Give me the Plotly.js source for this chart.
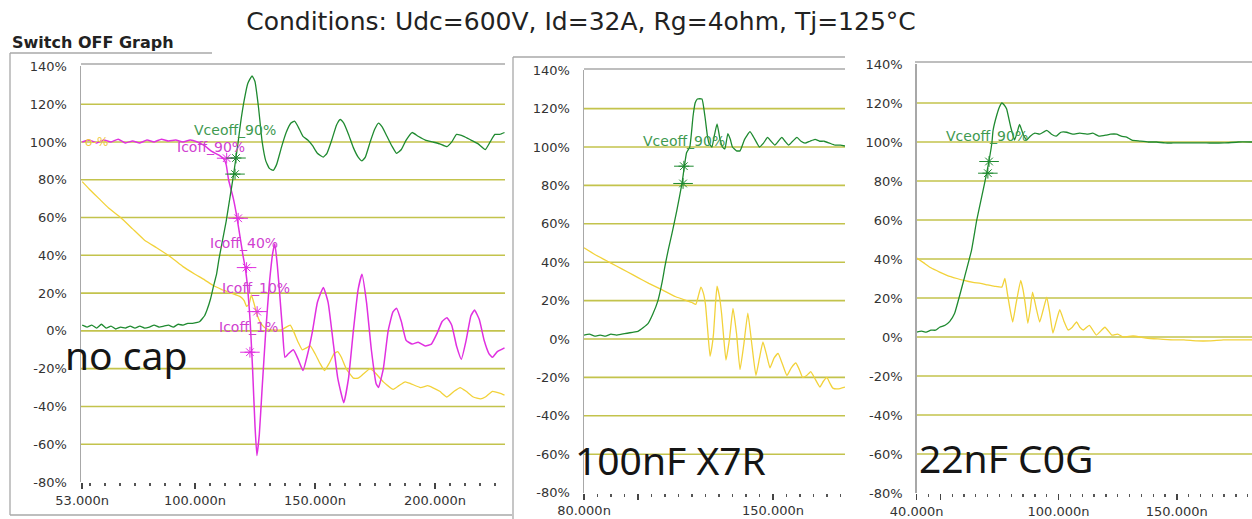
<!DOCTYPE html>
<html><head><meta charset="utf-8">
<script src="https://cdn.plot.ly/plotly-3.0.1.min.js"></script>
<style>html,body{margin:0;padding:0;background:#fff;overflow:hidden}#chart{width:1252px;height:519px}</style>
</head><body><div id="chart"></div>
<script>
// ---------- data (time in ns, value in %) ----------
const noCapVceT = [53,55,57,59,61,63,65,67,69,71,73,75,77,79,81,83,85,87,89,91,93,95,97,99,101,102,104,105,106.5,107.6,109,110,111.5,113,114.5,116,117,118,119,120.5,122,123.8,125,126.5,128,129.5,131,132.6,134,136,138,140,141.5,143,145,147,149,151,153.5,155,157,159,160.5,162,164,166,168,169.6,171,173,175,176.5,178,180,182,184,186,188,190.5,193,196,199,202,205,207,209,212,215,218,221,223,225,227,229];
const noCapVce  = [3,2,3,1.5,3.5,1.5,2.5,1,2,1.5,2.5,1.5,2.5,1.5,2,3,2,2.5,3,2,3.5,3,4,4,4.5,5,8,11,17,23,30,38,48,58,70,82,91,100,110,122,131,135,132,118,100,90,86,85,88,97,105,110,111,108,103,101,98,94,92,94,101,109,112,110,104,97,92,90,92,100,107,110,108,103,98,94,96,101,105,103,101,100,99,97.5,100,104,103,101,99,96,100,104,104,105];

const noCapIcT = [53,56,59,62,65,68,71,74,77,80,83,86,89,92,95,98,101,104,107,110,112,113,114,116,117.5,119,120,121,122,123,124,125,125.8,126.8,128,129.5,131,132.5,133.3,134.3,135.4,136.5,137.5,139,141,143,145,147,149,151,153.5,155.5,157.5,159.5,162,164,166,168,169.6,171.5,173.5,175.5,176.5,178.5,180.5,182.5,184,186,188,190.5,193,196,198.5,201,203,205,207,209,211,213,215,216.5,218.5,220.5,222.5,224,226,229];
const noCapIc  = [100,101,99.5,101,100,101.5,99.5,100.5,99.5,101,100,101.5,100.5,101,100,101,100,98,95,93,91,88,80,70,60,48,40,33,22,5,-20,-50,-66,-55,-30,0,25,42,46,35,18,0,-14,-12,-10,-15,-21,-12,0,15,23,15,-5,-25,-38,-25,0,22,30,15,-10,-28,-30,-20,0,10,12,5,-5,-7,-6,-8,-7,-1,5,7,3,-8,-15,-5,8,11,6,-5,-12,-14,-11,-9];

const noCapCh3T = [53,56,60,64,69,74,79,84,90,95,100,104,107.6,111,115,119,120.5,121.5,122.5,123.5,124.5,126,128,130,133,136,138,139.7,141,143,144.7,146.5,148,150,152,154,156,158,159.5,161,163,166,168,170,173,175,178.5,182.6,185,187.6,190,194,197,199,202,205,208,210.5,213,216,219,221,224,227,229];
const noCapCh3  = [79,75,70,65,60,54,48,44,39,34,30,27,24,22,20,18,16,13,14,19,15,8,3,1,0.5,0.5,2,3,0,-6,-10,-9,-8,-12,-17,-21,-17,-12,-11,-14,-20,-25,-25,-23,-20,-22,-27,-31,-29,-27,-28,-30,-29,-30,-32,-35,-32,-30,-32,-35,-36,-35,-32,-33,-34];

const x7rVceT = [80,82,84,86,88,90,92,94,96,98,100,102,103.7,105.5,107.4,109,110,111.3,112.6,114.4,116.3,118,119.2,120.4,121.2,122,123.7,124.8,125.7,126.3,127.4,128.3,129.3,130.4,131.3,132.2,133.3,134.2,135,136.5,137.8,139.5,141.5,143.3,145,146.5,148,149.3,150.7,152,153.3,154.5,155.8,157.3,158.9,160.4,161.9,163.7,165.6,167.3,169,171,173,175,176.7];
const x7rVce  = [2,2.5,1.5,2,1.5,2.5,2,2.5,3,3.5,4,6,8,13,20,30,38,47,55,67,81,97,100,116,123,125,125,116,106,102,100,106,112,104,100,99,107,104,100,98,98,104,108,104,100,102,105,103,101,103,105,103,101,103,105,103,102,103,104,103,103,102,101,101,100.5];

const x7rCh3T = [80,84,88,92,96,100,104,109,114,118,120,121.4,122.3,123.3,124.2,125,125.8,126.7,127.4,128,128.7,129.3,130.2,131,131.8,132.6,133.9,135.2,136.5,137.8,139.2,140.7,142.2,143.7,145,146.3,147.6,148.9,150.4,151.9,153.5,155.2,156.8,158.5,159.8,161,162.5,164,165.7,167.4,168.7,170,171.1,172.2,174,176.7];
const x7rCh3  = [47.5,44,41,38,35,32,29,25.6,22,20,19,18,22,27,24,18,5,-9,-4,3,18,27.5,22,13,0,-11,0,16,3,-16,-3,13.5,-3,-19,-10,-1.5,-8,-15,-10,-7.5,-13,-19,-15,-12.5,-16,-20,-19,-17,-21,-25,-22,-20,-23,-25.6,-26,-25];

const c0gVceT = [40,42,44,46,48,49.7,52,54,56,58,60.3,63.2,65.4,67.5,69.6,71.8,72.3,73.9,75,76,77,78,79.7,81.4,82.5,83.5,85,86.5,88,90,92,95,97,99,101,103.4,106,109,112,114.5,117,120,122,124.5,126.5,128.8,131,134.3,138,141.5,145,148.4,155,162.5,170,176,181.8];
const c0gVce  = [2.5,3,2.5,3.5,3.5,5,6,8,12,20.5,31,44.6,60,72,84,99.5,106,114,118,120,119,117,108,101,105,109,104,101,103,104.5,104,106,104,103,105,105,104,104.5,104,104.5,103,103.5,104,104,103,102.5,101,100.5,100,100,99.5,99.5,99.5,99.5,99.5,100,100];

const c0gCh3T = [40,43,46,49.7,53,57,60,63.8,67,70,73,76,77.3,78.4,79.5,80.6,82,84,85,85.9,87,88,89,90.5,92,93.5,95,96.3,97.6,99,100.5,102.3,104,105.8,107.6,109,110.5,113,116,119.6,122.5,125,127.3,131.5,137,142,148.4,153,158.4,164,169.7,175,181.8];
const c0gCh3  = [40.5,38,35.5,33.3,31.5,30,29,28,27.5,26.7,26,25.6,30,22,14,7.7,17,29,24,17,7,14,23,15,7.7,14,20.5,12,2,8,14,8,3.6,5,7.7,5,3.6,6,1,5,1,1.5,0,0.5,-0.5,-1,-1.5,-1.5,-2,-2,-1.5,-1.5,-1.5];

// measurement cursor marks (asterisks)
const noCapIcMarkT = [113.2,118,121.5,125.9,122.9];
const noCapIcMark  = [91.4,59.6,33.5,10.2,-11.3];
const noCapVceMarkT = [117.1,116.7];
const noCapVceMark  = [91.5,83];
const x7rVceMarkT = [117,116.7];
const x7rVceMark  = [90,81];
const c0gVceMarkT = [70.6,70.1];
const c0gVceMark  = [90,84];

// axis ticks
const yTickVals = [-80,-60,-40,-20,0,20,40,60,80,100,120,140];
const yTickText = yTickVals.map(v => v + '%');
const gridVals  = [-60,-40,-20,0,20,40,60,80,100,120];
const x1TickVals = [53,100,150,200];
const x1TickText = ['53.000n','100.000n','150.000n','200.000n'];
const x2TickVals = [80,100,150];
const x2TickText = ['80.000n','','150.000n'];
const x3TickVals = [40,50,100,150];
const x3TickText = ['40.000n','','100.000n','150.000n'];

// ---------- styling ----------
const W = 1252, H = 519;
const GREEN = '#1f8a30', MAGENTA = '#e030e0', YELLOW = '#f2d23a';
const GRID = '#c3c34c', FRAME = '#a8a8a8';
const px = v => v / W, py = v => 1 - v / H;
const tickFont = {family: 'DejaVu Sans, Verdana, sans-serif', size: 13, color: '#333'};

function line(xa, ya, t, v, color, w) {
  return {type: 'scatter', mode: 'lines', x: t, y: v, xaxis: xa, yaxis: ya,
          line: {color: color, width: w || 1.3, shape: 'spline', smoothing: 0.4},
          hoverinfo: 'skip', showlegend: false};
}
function marks(xa, ya, t, v, color) {
  return [
    {type: 'scatter', mode: 'markers', x: t, y: v, xaxis: xa, yaxis: ya,
     marker: {symbol: 'asterisk-open', size: 9, color: color, line: {color: color, width: 1}},
     hoverinfo: 'skip', showlegend: false},
    {type: 'scatter', mode: 'markers', x: t, y: v, xaxis: xa, yaxis: ya,
     marker: {symbol: 'line-ew-open', size: 14, color: color, line: {color: color, width: 1}},
     hoverinfo: 'skip', showlegend: false}
  ];
}

const traces = [
  line('x', 'y', noCapCh3T, noCapCh3, YELLOW),
  line('x', 'y', noCapIcT, noCapIc, MAGENTA, 1.5),
  line('x', 'y', noCapVceT, noCapVce, GREEN),
  ...marks('x', 'y', noCapIcMarkT, noCapIcMark, MAGENTA),
  ...marks('x', 'y', noCapVceMarkT, noCapVceMark, GREEN),
  line('x2', 'y2', x7rCh3T, x7rCh3, YELLOW),
  line('x2', 'y2', x7rVceT, x7rVce, GREEN),
  ...marks('x2', 'y2', x7rVceMarkT, x7rVceMark, GREEN),
  line('x3', 'y3', c0gCh3T, c0gCh3, YELLOW),
  line('x3', 'y3', c0gVceT, c0gVce, GREEN),
  ...marks('x3', 'y3', c0gVceMarkT, c0gVceMark, GREEN)
];

function xAxis(dom, range, tv, tt, minorStep, minor0, anchor) {
  return {domain: dom, range: range, anchor: anchor, showgrid: false, zeroline: false,
          showline: false, tickmode: 'array', tickvals: tv, ticktext: tt,
          ticks: 'outside', ticklen: 6, tickwidth: 1.5, tickcolor: '#444',
          minor: {dtick: minorStep, tick0: minor0, ticks: 'outside', ticklen: 3, tickwidth: 1.3, tickcolor: '#555', showgrid: false},
          tickfont: tickFont, fixedrange: true};
}
function yAxis(dom, anchor) {
  return {domain: dom, range: [-80, 140], anchor: anchor, showgrid: false, zeroline: false,
          showline: true, linecolor: FRAME, linewidth: 1.5,
          tickmode: 'array', tickvals: yTickVals, ticktext: yTickText,
          ticks: 'outside', ticklen: 10, tickcolor: 'rgba(0,0,0,0)',
          tickfont: tickFont, fixedrange: true};
}

const shapes = [];
[['x','y'],['x2','y2'],['x3','y3']].forEach(([xa, ya]) => {
  gridVals.forEach(v => shapes.push({type: 'line', layer: 'below', xref: xa + ' domain', x0: 0, x1: 1,
    yref: ya, y0: v, y1: v, line: {color: GRID, width: 1.6}}));
});
function frame(x0, y0, x1, y1) {
  shapes.push({type: 'line', xref: 'paper', yref: 'paper', x0: px(x0), y0: py(y0), x1: px(x1), y1: py(y1),
               line: {color: FRAME, width: 1.3}});
}
// panel 1 window
frame(10, 53, 212, 53); frame(10, 53, 10, 515); frame(10, 515, 512, 515);
frame(81, 64, 505, 64);
// panel 2 window
frame(513, 57, 845, 57); frame(513, 57, 513, 519);
frame(584, 69, 845, 69);
// panel 3
frame(915, 62, 1252, 62);

const labFont = (c) => ({family: 'DejaVu Sans, Verdana, sans-serif', size: 14, color: c});
const bigFont = {family: 'Noto Sans, Open Sans, sans-serif', size: 39, color: '#151515'};
const annotations = [
  {xref: 'x', yref: 'y', x: 106.5, y: 97.5, text: 'Icoff_90%', showarrow: false, font: labFont('#d040d0')},
  {xref: 'x', yref: 'y', x: 116.5, y: 106.5, text: 'Vceoff_90%', showarrow: false, font: labFont('#3f9a50')},
  {xref: 'x', yref: 'y', x: 120.4, y: 46.6, text: 'Icoff_40%', showarrow: false, font: labFont('#d040d0')},
  {xref: 'x', yref: 'y', x: 125.4, y: 22.8, text: 'Icoff_10%', showarrow: false, font: labFont('#d040d0')},
  {xref: 'x', yref: 'y', x: 122.5, y: 2.1, text: 'Icoff_1%', showarrow: false, font: labFont('#d040d0')},
  {xref: 'x', yref: 'y', x: 53.5, y: 100, xanchor: 'left', text: 'o-%', showarrow: false,
   font: {family: 'DejaVu Sans, sans-serif', size: 12, color: '#f0c840'}},
  {xref: 'x', yref: 'y', x: 71.25, y: -12.7, text: 'no cap', showarrow: false, font: bigFont},
  {xref: 'x2', yref: 'y2', x: 117, y: 103, text: 'Vceoff_90%', showarrow: false, font: labFont('#3f9a50')},
  {xref: 'x2', yref: 'y2', x: 111.9, y: -62.5, text: '100nF X7R', showarrow: false, font: bigFont},
  {xref: 'x3', yref: 'y3', x: 69.7, y: 103, text: 'Vceoff_90%', showarrow: false, font: labFont('#3f9a50')},
  {xref: 'x3', yref: 'y3', x: 77.8, y: -62, text: '22nF C0G', showarrow: false, font: bigFont},
  {xref: 'paper', yref: 'paper', x: px(10), y: py(43), xanchor: 'left', yanchor: 'middle', text: '<b>Switch OFF Graph</b>',
   showarrow: false, font: {family: 'DejaVu Sans, Verdana, sans-serif', size: 16, color: '#222'}}
];

const layout = {
  width: W, height: H, margin: {l: 0, r: 0, t: 0, b: 0},
  paper_bgcolor: '#fff', plot_bgcolor: 'rgba(0,0,0,0)', showlegend: false,
  title: {text: 'Conditions: Udc=600V, Id=32A, Rg=4ohm, Tj=125°C', x: px(581), y: py(21), xanchor: 'center', yanchor: 'middle',
          xref: 'paper', yref: 'paper', font: {family: 'DejaVu Sans, Verdana, sans-serif', size: 25, color: '#222'}},
  xaxis:  xAxis([px(81), px(505)], [52.5, 229.2], x1TickVals, x1TickText, 6.25, 0, 'y'),
  yaxis:  yAxis([py(482), py(66.4)], 'x'),
  xaxis2: xAxis([px(584), px(845)], [80, 176.7], x2TickVals, x2TickText, 5, 0, 'y2'),
  yaxis2: yAxis([py(492.6), py(70.2)], 'x2'),
  xaxis3: xAxis([px(916.7), 1], [40, 181.8], x3TickVals, x3TickText, 5, 0, 'y3'),
  yaxis3: yAxis([py(493), py(64)], 'x3'),
  shapes: shapes, annotations: annotations
};

Plotly.newPlot('chart', traces, layout, {staticPlot: true, displayModeBar: false});
</script></body></html>
